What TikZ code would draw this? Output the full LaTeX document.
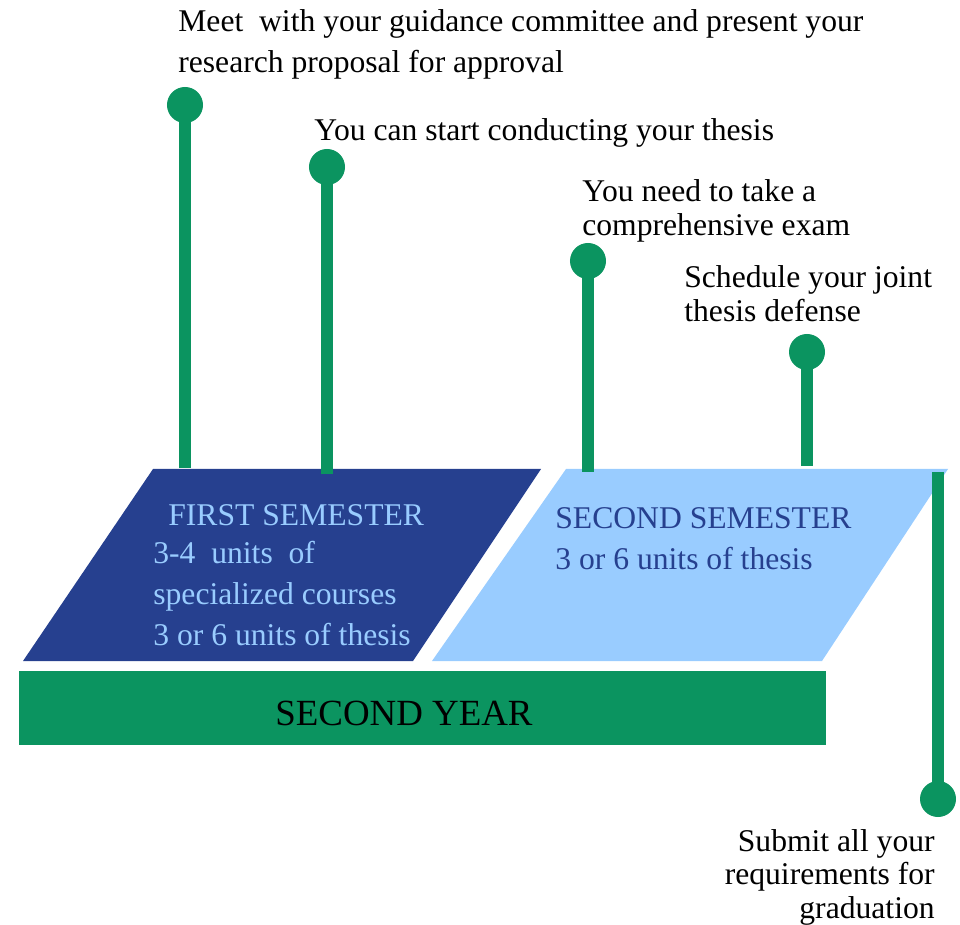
\documentclass[tikz,border=0pt]{standalone}
\usepackage{fontspec}
\setmainfont{Liberation Serif}
\usetikzlibrary{
    positioning
}
\definecolor{pingreen}{RGB}{11,148,96}
\definecolor{semdark}{RGB}{38,64,143}
\definecolor{semlight}{RGB}{153,204,255}
\tikzset{
    pinhead/.style={
        circle,
        fill=pingreen,
        minimum size=20.5pt,
        inner sep=0pt,
    },
    pinline/.style={
        draw=pingreen,
        line width=6.3pt,
    },
    milestone/.style={
        anchor=base west,
        align=left,
        inner sep=0pt,
        font=\fontsize{18}{19.5}\selectfont,
    }
}

\begin{document}
\begin{tikzpicture}[
    x=0.02cm, y=-0.02cm,
    semtext/.style={anchor=base west, align=left, inner sep=0pt, font=\fontsize{18}{23.3}\selectfont}
    ]

    \useasboundingbox (0, 0) rectangle (960, 925);

    % semesters
    \fill[semdark] (153, 469) -- (541, 469) -- (413, 661) -- (23, 661) -- cycle;
    \fill[semlight] (566, 469) -- (948, 469) -- (822, 661) -- (432, 661) -- cycle;
    \node[semtext, text=semlight] at (168, 525) (first) {FIRST SEMESTER};
    \node[semtext, text=semlight] at (153, 645) (first-units) {3-4\ \ units\ \ of\\specialized courses\\3 or 6 units of thesis};
    \node[semtext, text=semdark] at (555, 569) (second) {SECOND SEMESTER\\3 or 6 units of thesis};

    % year bar
    \fill[pingreen] (19, 671) rectangle (826, 745);
    \node[font=\fontsize{21}{25}\selectfont, inner sep=0pt, anchor=base] at (404, 725) (year) {SECOND YEAR};

    % pins
    \node[pinhead] at (185, 105) (p1) {};
    \node[pinhead] at (327, 167) (p2) {};
    \node[pinhead] at (588, 261) (p3) {};
    \node[pinhead] at (807, 352) (p4) {};
    \node[pinhead] at (938, 799) (p5) {};
    \coordinate (f1) at (185, 468);
    \coordinate (f2) at (327, 474);
    \coordinate (f3) at (588, 472);
    \coordinate (f4) at (807, 466);
    \coordinate (f5) at (938, 472);
    \draw[pinline] (p1.center) -- (f1);
    \draw[pinline] (p2.center) -- (f2);
    \draw[pinline] (p3.center) -- (f3);
    \draw[pinline] (p4.center) -- (f4);
    \draw[pinline] (f5) -- (p5.center);

    % labels
    \node[milestone] at (178, 73) (proposal) {Meet\ \ with your guidance committee and present your\\[4.4pt]research proposal for approval};
    \node[milestone] at (314, 141) (conduct) {You can start conducting your thesis};
    \node[milestone] at (582, 236) (exam) {You need to take a\\comprehensive exam};
    \node[milestone] at (684, 322) (defense) {Schedule your joint\\thesis defense};
    \node[milestone, anchor=base east, align=right, font=\fontsize{18}{19}\selectfont] at (935, 918) (submit) {Submit all your\\requirements for\\graduation};

\end{tikzpicture}
\end{document}
